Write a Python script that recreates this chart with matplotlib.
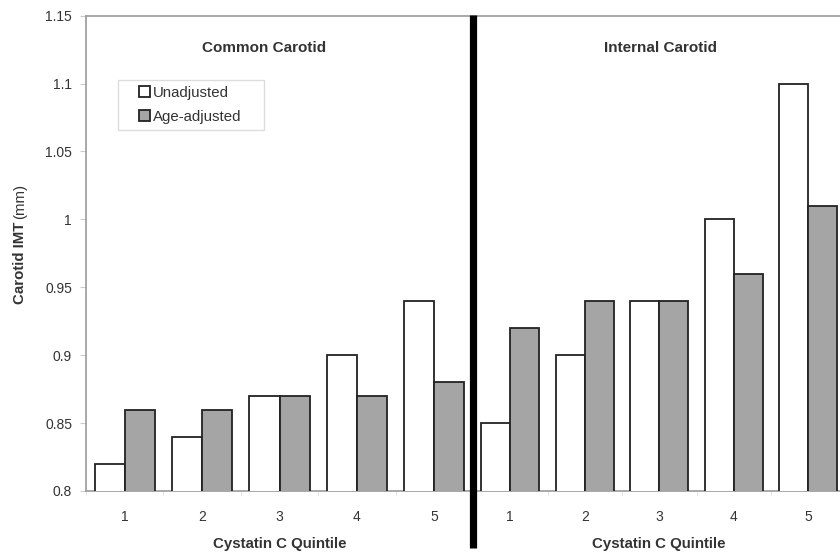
import matplotlib
matplotlib.use("Agg")
import matplotlib.pyplot as plt
from matplotlib.lines import Line2D
from matplotlib.patches import Rectangle
import numpy as np

plt.rcParams["font.family"] = ["Liberation Sans", "DejaVu Sans"]

quintiles = ["1", "2", "3", "4", "5"]
common_unadj = [0.82, 0.84, 0.87, 0.90, 0.94]
common_adj = [0.86, 0.86, 0.87, 0.87, 0.88]
internal_unadj = [0.85, 0.90, 0.94, 1.00, 1.10]
internal_adj = [0.92, 0.94, 0.94, 0.96, 1.01]
yticks = [0.8, 0.85, 0.9, 0.95, 1.0, 1.05, 1.1, 1.15]
ytick_labels = ["0.8", "0.85", "0.9", "0.95", "1", "1.05", "1.1", "1.15"]

W, H = 840, 555
fig = plt.figure(figsize=(W / 100, H / 100), dpi=100)

bottom_px, top_px = 491, 15.7
ax1 = fig.add_axes([86 / W, 1 - bottom_px / H, (473 - 86) / W, (bottom_px - top_px) / H])
ax2 = fig.add_axes([473 / W, 1 - bottom_px / H, (845.5 - 473) / W, (bottom_px - top_px) / H])

spine_col = "#9a9a9a"
text_col = "#333333"
bw = 0.39
x = np.arange(len(quintiles))


def draw_panel(ax, unadj, adj):
    ax.bar(x - bw / 2, unadj, bw, color="white", edgecolor="#222222",
           linewidth=1.3, label="Unadjusted", zorder=3)
    ax.bar(x + bw / 2, adj, bw, color="#a5a5a5", edgecolor="#222222",
           linewidth=1.3, label="Age-adjusted", zorder=3)
    ax.set_xlim(-0.5, 4.5)
    ax.set_ylim(0.8, 1.15)
    ax.set_xticks(x)
    ax.set_xticklabels(quintiles)
    ax.set_xticks(np.arange(-0.5, 5, 1), minor=True)
    ax.tick_params(axis="x", which="major", length=0, pad=14, labelsize=10, labelcolor=text_col)
    ax.tick_params(axis="x", which="minor", length=3, color="#dddddd")
    ax.set_xlabel("Cystatin C Quintile", fontsize=10.8, fontweight="bold", color=text_col, labelpad=9)
    for s in ["top", "bottom"]:
        ax.spines[s].set_color(spine_col)
        ax.spines[s].set_linewidth(1.2)
    ax.spines["right"].set_visible(False)


draw_panel(ax1, common_unadj, common_adj)
draw_panel(ax2, internal_unadj, internal_adj)

ax1.spines["left"].set_color(spine_col)
ax1.spines["left"].set_linewidth(1.2)
ax1.set_yticks(yticks)
ax1.set_yticklabels(ytick_labels)
ax1.tick_params(axis="y", length=4, color="#cccccc", pad=6, labelsize=10, labelcolor=text_col)

ax2.spines["left"].set_visible(False)
ax2.set_yticks([])

# panel titles
fig.text(264 / W, 1 - 48 / H, "Common Carotid", ha="center", va="center",
         fontsize=11, fontweight="bold", color=text_col)
fig.text(660 / W, 1 - 48 / H, "Internal Carotid", ha="center", va="center",
         fontsize=11, fontweight="bold", color=text_col)

# legend box drawn separately (Excel style padding)
ax1.add_patch(Rectangle((118 / W, 1 - 130 / H), (264 - 118) / W, 50 / H,
                        transform=fig.transFigure, facecolor="white", clip_on=False,
                        edgecolor="#dddddd", linewidth=1.0, zorder=4))
leg = ax1.legend(loc="upper left", bbox_to_anchor=((139 - 86) / 387, (491 - 86) / 475.3),
                 fontsize=10.8, frameon=False, handlelength=0.75,
                 handleheight=0.75, handletextpad=0.2, borderpad=0, labelspacing=0.68,
                 borderaxespad=0)
leg.set_zorder(5)
for t in leg.get_texts():
    t.set_color(text_col)

# y label: bold part + normal part
fig.text(20 / W, 1 - 222 / H, "Carotid IMT", rotation=90, ha="center", va="top",
         fontsize=10.8, fontweight="bold", color=text_col)
fig.text(20 / W, 1 - 219 / H, "(mm)", rotation=90, ha="center", va="bottom",
         fontsize=10.8, color=text_col)

# thick divider between panels
fig.add_artist(Line2D([473 / W, 473 / W], [1 - 15 / H, 1 - 548 / H], color="black",
                      linewidth=5.2, transform=fig.transFigure, solid_capstyle="butt"))

fig.savefig("out.png", dpi=100, facecolor="white")
